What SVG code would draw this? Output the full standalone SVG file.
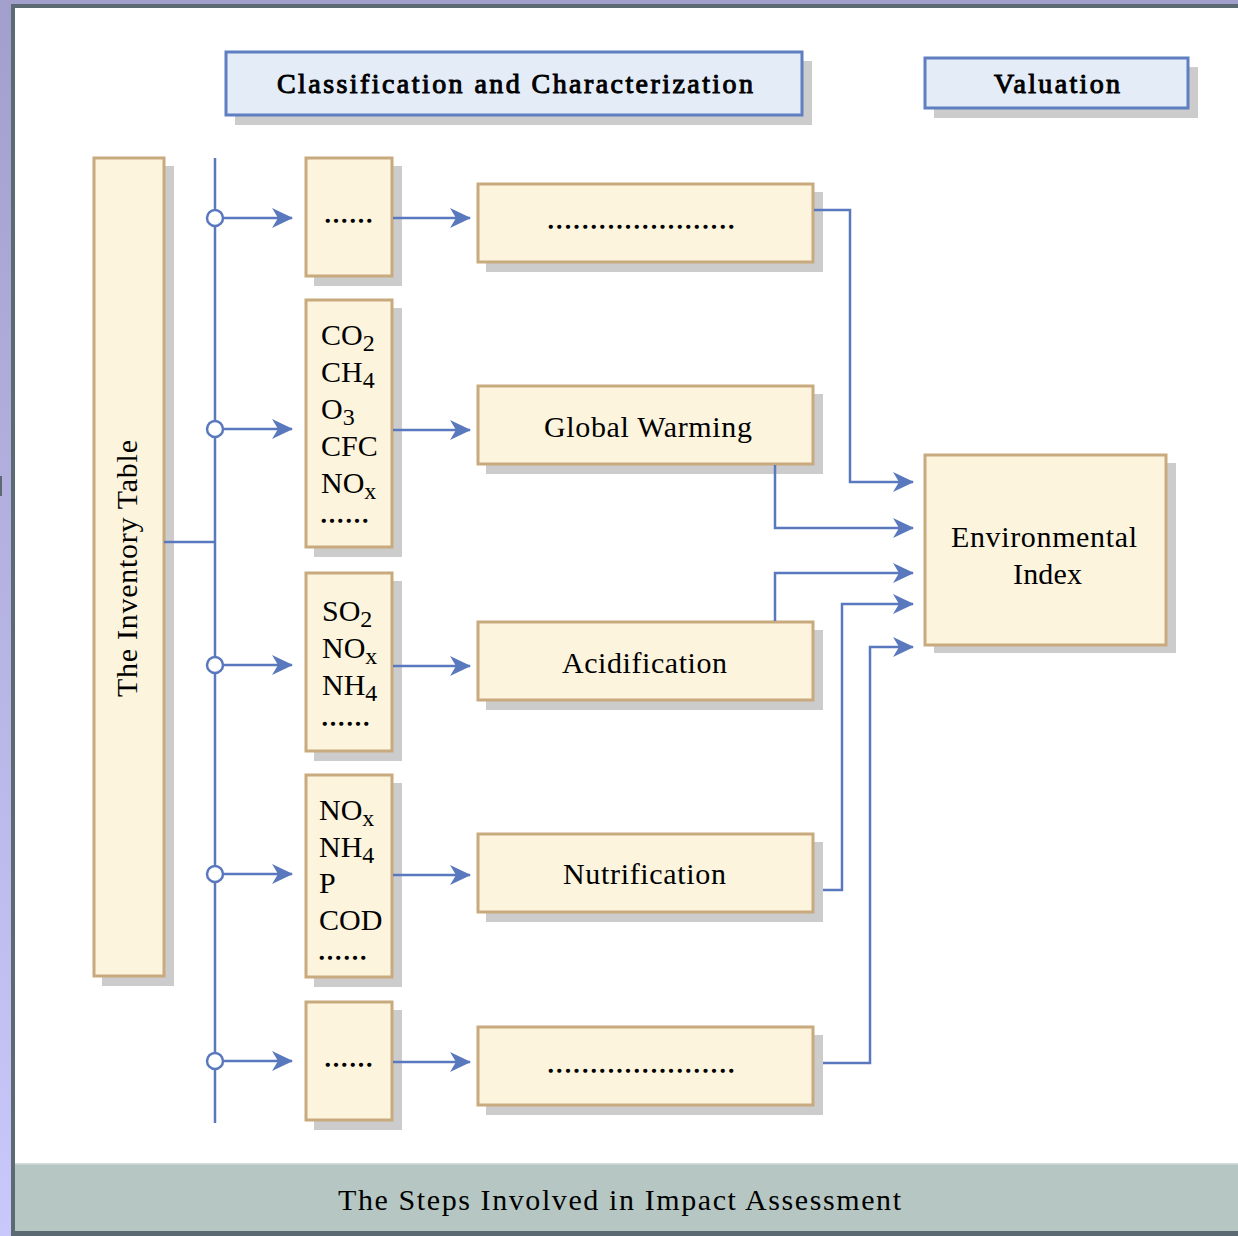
<svg xmlns="http://www.w3.org/2000/svg" width="1238" height="1236" viewBox="0 0 1238 1236">
<defs>
<linearGradient id="bgL" x1="0" y1="0" x2="0" y2="1"><stop offset="0" stop-color="#a39fcc"/><stop offset="1" stop-color="#c9c8fa"/></linearGradient>
<marker id="ah" markerWidth="22" markerHeight="22" refX="20" refY="10" orient="auto" markerUnits="userSpaceOnUse"><path d="M0,0 L21,10 L0,20 L6,10 Z" fill="#5a78bd"/></marker>
<style>
.box{fill:#fcf4dc;stroke:#c8aa7e;stroke-width:3}
.hdr{fill:#e4ecf8;stroke:#5f7fc0;stroke-width:3}
.sh{fill:#cccccc}
.ln{fill:none;stroke:#5a78bd;stroke-width:2.5}
.ar{fill:none;stroke:#5a78bd;stroke-width:2.5;marker-end:url(#ah)}
.cir{fill:#ffffff;stroke:#5a78bd;stroke-width:2.5}
text{font-family:"Liberation Serif","Times New Roman",serif;fill:#000}
.t{font-size:30px}
.ch{font-size:30px}
.b{font-size:28px;stroke:#000;stroke-width:1px}
.d{font-size:22px;stroke:#000;stroke-width:1.6px}
.s{font-size:24px}
</style>
</defs>
<rect x="0" y="0" width="1238" height="1236" fill="url(#bgL)"/>
<rect x="11" y="4" width="1227" height="1232" fill="#5b6a73"/>
<rect x="15" y="8" width="1223" height="1223" fill="#ffffff"/>
<rect x="15" y="1164" width="1223" height="67" fill="#b6c7c3"/>
<rect x="15" y="1163" width="1223" height="1.5" fill="#d4dedb"/>
<rect x="0" y="476" width="2" height="20" fill="#5b6a73"/>

<g id="hdr-class">
<rect class="sh" x="235" y="61" width="577" height="64"/>
<rect class="hdr" x="226" y="52" width="576" height="63"/>
<text class="b" x="277" y="93" textLength="476">Classification and Characterization</text>
</g>
<g id="hdr-val">
<rect class="sh" x="934" y="67" width="264" height="51"/>
<rect class="hdr" x="925" y="58" width="263" height="50"/>
<text class="b" x="994" y="93" textLength="126">Valuation</text>
</g>

<g id="inventory">
<rect class="sh" x="102" y="166" width="72" height="820"/>
<rect class="box" x="94" y="158" width="70" height="818"/>
<text class="t" font-size="29" transform="translate(137,697) rotate(-90)" textLength="257">The Inventory Table</text>
</g>

<g id="sub1">
<rect class="sh" x="314" y="166" width="88" height="120"/>
<rect class="box" x="306" y="158" width="86" height="118"/>
<text class="d" x="325" y="222" textLength="47">......</text>
</g>
<g id="sub2">
<rect class="sh" x="314" y="308" width="88" height="249"/>
<rect class="box" x="306" y="300" width="86" height="247"/>
<text class="ch" x="321" y="345">CO<tspan class="s" dy="6">2</tspan></text>
<text class="ch" x="321" y="382">CH<tspan class="s" dy="6">4</tspan></text>
<text class="ch" x="321" y="419">O<tspan class="s" dy="6">3</tspan></text>
<text class="ch" x="321" y="456">CFC</text>
<text class="ch" x="321" y="493">NO<tspan class="s" dy="6">x</tspan></text>
<text class="d" x="321" y="522" textLength="47">......</text>
</g>
<g id="sub3">
<rect class="sh" x="314" y="581" width="88" height="180"/>
<rect class="box" x="306" y="573" width="86" height="178"/>
<text class="ch" x="322" y="621">SO<tspan class="s" dy="6">2</tspan></text>
<text class="ch" x="322" y="658">NO<tspan class="s" dy="6">x</tspan></text>
<text class="ch" x="322" y="695">NH<tspan class="s" dy="6">4</tspan></text>
<text class="d" x="322" y="725" textLength="47">......</text>
</g>
<g id="sub4">
<rect class="sh" x="314" y="783" width="88" height="204"/>
<rect class="box" x="306" y="775" width="86" height="202"/>
<text class="ch" x="319" y="820">NO<tspan class="s" dy="6">x</tspan></text>
<text class="ch" x="319" y="857">NH<tspan class="s" dy="6">4</tspan></text>
<text class="ch" x="319" y="893">P</text>
<text class="ch" x="319" y="930">COD</text>
<text class="d" x="319" y="959" textLength="47">......</text>
</g>
<g id="sub5">
<rect class="sh" x="314" y="1010" width="88" height="120"/>
<rect class="box" x="306" y="1002" width="86" height="118"/>
<text class="d" x="325" y="1066" textLength="47">......</text>
</g>

<g id="cat1">
<rect class="sh" x="486" y="192" width="337" height="80"/>
<rect class="box" x="478" y="184" width="335" height="78"/>
<text class="d" x="548" y="228" textLength="186">......................</text>
</g>
<g id="cat-gw">
<rect class="sh" x="486" y="394" width="337" height="80"/>
<rect class="box" x="478" y="386" width="335" height="78"/>
<text class="t" x="544" y="437" textLength="208">Global Warming</text>
</g>
<g id="cat-ac">
<rect class="sh" x="486" y="630" width="337" height="80"/>
<rect class="box" x="478" y="622" width="335" height="78"/>
<text class="t" x="562" y="673" textLength="165">Acidification</text>
</g>
<g id="cat-nu">
<rect class="sh" x="486" y="842" width="337" height="80"/>
<rect class="box" x="478" y="834" width="335" height="78"/>
<text class="t" x="563" y="884" textLength="163">Nutrification</text>
</g>
<g id="cat5">
<rect class="sh" x="486" y="1035" width="337" height="80"/>
<rect class="box" x="478" y="1027" width="335" height="78"/>
<text class="d" x="548" y="1072" textLength="186">......................</text>
</g>

<g id="env">
<rect class="sh" x="934" y="463" width="242" height="190"/>
<rect class="box" x="925" y="455" width="241" height="190"/>
<text class="t" x="951" y="547" textLength="186">Environmental</text>
<text class="t" x="1013" y="584" textLength="69">Index</text>
</g>

<g id="connectors">
<path class="ln" d="M164,542 H215"/>
<path class="ln" d="M215,158 V1123"/>
<path class="ar" d="M223,218 H292"/>
<path class="ar" d="M223,429 H292"/>
<path class="ar" d="M223,665 H292"/>
<path class="ar" d="M223,874 H292"/>
<path class="ar" d="M223,1061 H292"/>
<path class="ar" d="M393,218 H470"/>
<path class="ar" d="M393,430 H470"/>
<path class="ar" d="M393,666 H470"/>
<path class="ar" d="M393,875 H470"/>
<path class="ar" d="M393,1062 H470"/>
<path class="ar" d="M814,210 H850 V482 H913"/>
<path class="ar" d="M775,465 V528 H913"/>
<path class="ar" d="M775,621 V573 H913"/>
<path class="ar" d="M823,890 H842 V604 H913"/>
<path class="ar" d="M823,1063 H870 V647 H913"/>
<circle class="cir" cx="215" cy="218" r="8"/>
<circle class="cir" cx="215" cy="429" r="8"/>
<circle class="cir" cx="215" cy="665" r="8"/>
<circle class="cir" cx="215" cy="874" r="8"/>
<circle class="cir" cx="215" cy="1061" r="8"/>
</g>

<text class="t" x="338" y="1210" font-size="35" textLength="563">The Steps Involved in Impact Assessment</text>
</svg>
